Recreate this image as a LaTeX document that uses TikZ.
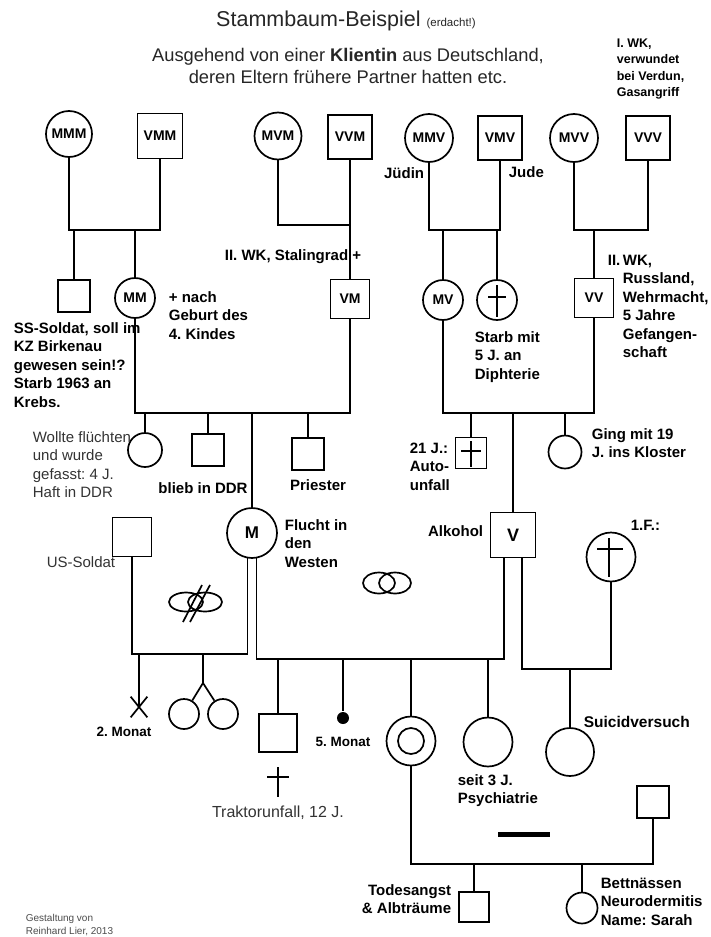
\documentclass[tikz,border=0pt]{standalone}
\usepackage{fontspec}
\setmainfont{Liberation Sans}
\usetikzlibrary{shapes.misc}
\frenchspacing
\begin{document}
\begin{tikzpicture}[x=1pt,y=-1pt,line width=1.7pt,
  frau/.style={circle, draw, inner sep=0pt, font=\fontsize{14}{15}\selectfont\bfseries},
  mann/.style={rectangle, draw, inner sep=0pt, font=\fontsize{14}{15}\selectfont\bfseries},
  notiz/.style={inner sep=0pt, align=left, anchor=base west, font=\fontsize{15}{18.5}\selectfont\bfseries},
  hinweis/.style={inner sep=0pt, align=left, anchor=base west, text=black!80, font=\fontsize{15}{18.5}\selectfont}]
\useasboundingbox[fill=white] (0,0) rectangle (711,937);

\node[inner sep=0pt, anchor=base, text=black!85, font=\fontsize{21.5}{24}\selectfont] (titel) at (346,26) {Stammbaum-Beispiel {\fontsize{11.5}{12}\selectfont (erdacht!)}};
\node[inner sep=0pt, anchor=base, align=center, text=black!85, font=\fontsize{18.3}{22}\selectfont] (unter) at (348,83) {Ausgehend von einer \textbf{Klientin} aus Deutschland,\\deren Eltern frühere Partner hatten etc.};
\node[notiz, font=\fontsize{12.5}{16.5}\selectfont\bfseries] (verdun) at (616,96.5) {I. WK,\\verwundet\\bei Verdun,\\Gasangriff};

\node[frau, minimum size=46] (mmm) at (69,134) {MMM};
\node[mann, minimum size=45] (vmm) at (160,136) {VMM};
\node[frau, minimum size=47] (mvm) at (278,136) {MVM};
\node[mann, minimum size=44] (vvm) at (350,137) {VVM};
\node[frau, minimum size=48] (mmv) at (429,138) {MMV};
\node[mann, minimum size=44] (vmv) at (500,138) {VMV};
\node[frau, minimum size=48] (mvv) at (574,138) {MVV};
\node[mann, minimum size=44] (vvv) at (648,138) {VVV};
\node[notiz, anchor=base east] (juedin) at (425,178) {Jüdin};
\node[notiz] (jude) at (508,177) {Jude};

\node[mann, minimum size=32] (ss) at (74,296) {};
\node[frau, minimum size=40] (mm) at (135,298) {MM};
\node[mann, minimum size=39] (vm) at (350,299) {VM};
\node[frau, minimum size=40] (mv) at (443,300) {MV};
\node[frau, minimum size=40] (tot) at (497,300) {};
\node[mann, minimum size=39] (vv) at (594,298) {VV};

\coordinate (p1a) at (74,230);
\coordinate (p1b) at (135,230);
\coordinate (p2) at (350,225);
\coordinate (p3a) at (443,230);
\coordinate (p3b) at (497,230);
\coordinate (p4) at (594,230);
\draw (mmm) |- (p1a) -| (vmm);
\draw (p1a) -- (ss);
\draw (p1b) -- (mm);
\draw (mvm) |- (p2);
\draw (vvm) -- (vm);
\draw (mmv) |- (p3a) -| (vmv);
\draw (p3a) -- (mv);
\draw (p3b) -- (tot);
\draw (mvv) |- (p4) -| (vvv);
\draw (p4) -- (vv);
\draw (tot.center) ++(0,-15) -- ++(0,32) (tot.center) ++(-9,-3) -- ++(18,0);

\node[notiz, anchor=base east] (stalin) at (362,260) {II. WK, Stalingrad +};
\node[notiz] (geburt) at (168,339) {+ nach\\Geburt des\\4. Kindes};
\node[notiz] (soldat) at (13,407) {SS-Soldat, soll im\\KZ Birkenau\\gewesen sein!?\\Starb 1963 an\\Krebs.};
\node[notiz] (diph) at (474,379) {Starb mit\\5 J. an\\Diphterie};
\node[notiz] (russ) at (622,357.5) {\llap{II.\,}WK,\\Russland,\\Wehrmacht,\\5 Jahre\\Gefangen-\\schaft};

\node[frau, minimum size=34] (fl) at (145,450) {};
\node[mann, minimum size=32] (ddr) at (208,450) {};
\node[mann, minimum size=32] (pr) at (308,454) {};
\node[frau, minimum size=50, font=\fontsize{17}{18}\selectfont\bfseries] (m) at (252,533) {M};
\node[mann, minimum size=31] (auto) at (471,453) {};
\node[mann, minimum size=45, font=\fontsize{18}{19}\selectfont\bfseries] (v) at (513,535) {V};
\node[frau, minimum size=33] (klo) at (565,452) {};
\node[mann, minimum size=39] (us) at (132,537) {};
\node[frau, minimum size=49] (ex) at (611,557) {};

\coordinate (q1a) at (145,413);
\coordinate (q1b) at (208,413);
\coordinate (q1c) at (252,413);
\coordinate (q1d) at (308,413);
\coordinate (r1a) at (471,413);
\coordinate (r1b) at (513,413);
\coordinate (r1c) at (565,413);
\draw (mm) |- (q1a) -| (vm);
\draw (q1a) -- (fl);
\draw (q1b) -- (ddr);
\draw (q1c) -- (m);
\draw (q1d) -- (pr);
\draw (mv) |- (r1a) -| (vv);
\draw (r1a) -- (auto);
\draw (r1b) -- (v);
\draw (r1c) -- (klo);
\draw (auto.center) ++(0,-12) -- ++(0,26) (auto.center) ++(-10,-2) -- ++(20,0);
\draw (ex.center) ++(-2,-19) -- ++(0,39) (ex.center) ++(-14,-8) -- ++(26,0);

\node[hinweis] (flucht) at (32,497.5) {Wollte flüchten\\und wurde\\gefasst: 4 J.\\Haft in DDR};
\node[notiz, anchor=base] (blieb) at (203,493) {blieb in DDR};
\node[notiz, anchor=base] (priester) at (318,490) {Priester};
\node[notiz] (westen) at (284,567) {Flucht in\\den\\Westen};
\node[hinweis, anchor=base east] (ussoldat) at (116,567) {US-Soldat};
\node[notiz, anchor=base east] (alk) at (484,536) {Alkohol};
\node[notiz] (erste) at (630,530) {1.F.:};
\node[notiz] (unfall) at (409,490) {21 J.:\\Auto-\\unfall};
\node[notiz] (kloster) at (591,457.5) {Ging mit 19\\J. ins Kloster};

\draw (186,602) ellipse[x radius=17, y radius=9.5] (205,602) ellipse[x radius=17, y radius=9.5];
\draw (183,622) -- (202,585) (190,622) -- (210,585);
\draw (379,583) ellipse[x radius=16, y radius=10.5] (395,583) ellipse[x radius=16, y radius=10.5];

\node[cross out, draw, inner sep=0pt, minimum width=15, minimum height=19] (abort) at (139,707) {};
\node[frau, minimum size=30] (zw1) at (184,714) {};
\node[frau, minimum size=30] (zw2) at (223,714) {};
\node[mann, minimum size=38] (tr) at (278,733) {};
\node[circle, fill, inner sep=0pt, minimum size=12] (fg) at (343,718) {};
\node[frau, minimum size=49] (kl) at (411,741) {};
\node[frau, minimum size=49] (ps) at (488,742) {};
\node[frau, minimum size=48] (su) at (570,752) {};
\draw (kl.center) circle[radius=13];

\coordinate (s1a) at (139,654);
\coordinate (s1b) at (203,654);
\coordinate (zw) at (203,683);
\coordinate (t1a) at (278,659);
\coordinate (t1b) at (343,659);
\coordinate (t1c) at (411,659);
\coordinate (t1d) at (488,659);
\coordinate (u1) at (570,669);
\draw (us) |- (s1a) -| (m.-100);
\draw (s1a) -- (abort.center);
\draw (s1b) -- (zw) -- (zw1);
\draw (zw) -- (zw2);
\draw (m.-80) |- (t1a) -| ([xshift=-9pt]v.south);
\draw (t1a) -- (tr);
\draw (t1b) -- (fg);
\draw (t1c) -- (kl);
\draw (t1d) -- (ps);
\draw ([xshift=9pt]v.south) |- (u1) -| (ex);
\draw (u1) -- (su);
\draw (278,767) -- (278,797) (267,777) -- (289,777);

\node[notiz, anchor=base, font=\fontsize{13.5}{16}\selectfont\bfseries] (mon2) at (124,736) {2. Monat};
\node[notiz, anchor=base, font=\fontsize{13.5}{16}\selectfont\bfseries] (mon5) at (343,746) {5. Monat};
\node[hinweis, anchor=base, font=\fontsize{16}{18.5}\selectfont] (traktor) at (278,817) {Traktorunfall, 12 J.};
\node[notiz, font=\fontsize{15.5}{18.5}\selectfont\bfseries] (suizid) at (583,727) {Suicidversuch};
\node[notiz] (psych) at (457,803.5) {seit 3 J.\\Psychiatrie};

\node[mann, minimum size=32] (ehe) at (653,802) {};
\node[mann, minimum size=30] (sohn) at (474,907) {};
\node[frau, minimum size=31] (sarah) at (582,908) {};
\coordinate (w1a) at (474,864);
\coordinate (w1b) at (582,864);
\draw (kl) |- (w1a) -| (ehe);
\draw (w1a) -- (sohn);
\draw (w1b) -- (sarah);
\draw[line width=5pt] (498,834) -- (550,834);

\node[notiz, align=right, anchor=base east] (angst) at (452,913.5) {Todesangst\\\& Albträume};
\node[notiz] (bett) at (600,925) {Bettnässen\\Neurodermitis\\Name: Sarah};
\node[hinweis, text=black!70, font=\fontsize{10}{13}\selectfont] (autor) at (25,934) {Gestaltung von\\Reinhard Lier, 2013};
\end{tikzpicture}
\end{document}
